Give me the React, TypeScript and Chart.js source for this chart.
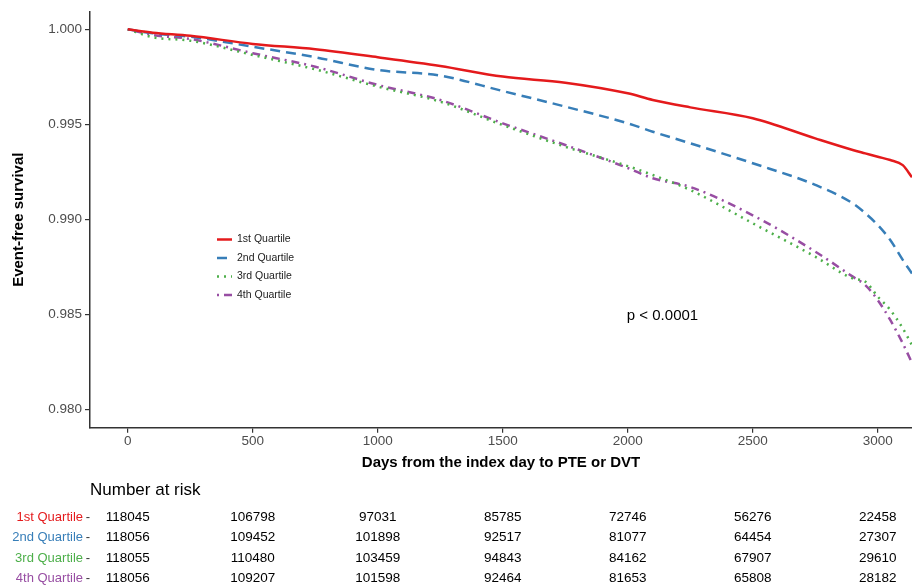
import React, { useEffect, useRef } from "react";
import { Chart, registerables } from "chart.js";

Chart.register(...registerables);

// ---- data ----
const days = [0, 100, 250, 500, 750, 1000, 1250, 1500, 1750, 2000, 2100, 2250, 2500, 2750, 2900, 2950, 3000, 3050, 3100, 3137];
const q1 = [1.0, 0.99982, 0.99966, 0.99923, 0.99895, 0.99853, 0.99807, 0.99751, 0.99719, 0.99663, 0.99628, 0.99589, 0.99532, 0.99426, 0.99365, 0.99347, 0.99329, 0.99312, 0.99285, 0.99221];
const q2 = [1.0, 0.99979, 0.99961, 0.99908, 0.99853, 0.99786, 0.99756, 0.99675, 0.99593, 0.99505, 0.99461, 0.994, 0.99295, 0.99181, 0.99084, 0.99032, 0.9897, 0.98891, 0.98786, 0.98715];
const q3 = [1.0, 0.99958, 0.9994, 0.99865, 0.99789, 0.99698, 0.99619, 0.99496, 0.99382, 0.9928, 0.99233, 0.99154, 0.98979, 0.98803, 0.98689, 0.98672, 0.98593, 0.98523, 0.98426, 0.98337];
const q4 = [1.0, 0.9997, 0.99949, 0.99874, 0.99803, 0.99707, 0.99628, 0.99505, 0.99391, 0.9927, 0.99216, 0.9917, 0.99021, 0.9883, 0.98698, 0.98654, 0.98575, 0.9847, 0.98347, 0.98244];

const seriesNames = ["1st Quartile", "2nd Quartile", "3rd Quartile", "4th Quartile"];
const xTicks = [0, 500, 1000, 1500, 2000, 2500, 3000];
const yTicks = [0.98, 0.985, 0.99, 0.995, 1.0];
const risk1 = [118045, 106798, 97031, 85785, 72746, 56276, 22458];
const risk2 = [118056, 109452, 101898, 92517, 81077, 64454, 27307];
const risk3 = [118055, 110480, 103459, 94843, 84162, 67907, 29610];
const risk4 = [118056, 109207, 101598, 92464, 81653, 65808, 28182];
const pText = "p < 0.0001";

const COLORS = ["#E41A1C", "#377EB8", "#4DAF4A", "#984EA3"];
const DASHES: number[][] = [[], [10, 6], [2, 5], [2, 5, 8, 5]];
const FONT = "'Liberation Sans', Arial, Helvetica, sans-serif";

const overlay = {
  id: "overlay",
  afterDraw(chart: any) {
    const ctx = chart.ctx as CanvasRenderingContext2D;
    const xs = chart.scales.x;
    const area = chart.chartArea;
    ctx.save();
    // y title
    ctx.save();
    ctx.translate(19, (area.top + area.bottom) / 2);
    ctx.rotate(-Math.PI / 2);
    ctx.font = `bold 15px ${FONT}`;
    ctx.fillStyle = "#000";
    ctx.textAlign = "center";
    ctx.textBaseline = "middle";
    ctx.fillText("Event-free survival", 0, 0);
    ctx.restore();
    // x title
    ctx.font = `bold 15px ${FONT}`;
    ctx.fillStyle = "#000";
    ctx.textAlign = "center";
    ctx.textBaseline = "middle";
    ctx.fillText("Days from the index day to PTE or DVT", (area.left + area.right) / 2, 463);
    // p value
    ctx.font = `15px ${FONT}`;
    ctx.fillText(pText, 662.5, 315.5);
    // legend
    const legY = [239.5, 258, 276.5, 295];
    ctx.font = `10.5px ${FONT}`;
    seriesNames.forEach((n, i) => {
      ctx.save();
      ctx.strokeStyle = COLORS[i];
      ctx.lineWidth = 2.5;
      ctx.setLineDash(DASHES[i]);
      ctx.beginPath();
      ctx.moveTo(217, legY[i]);
      ctx.lineTo(232, legY[i]);
      ctx.stroke();
      ctx.restore();
      ctx.fillStyle = "#222";
      ctx.textAlign = "left";
      ctx.textBaseline = "middle";
      ctx.fillText(n, 237, legY[i]);
    });
    // risk table
    ctx.font = `17px ${FONT}`;
    ctx.fillStyle = "#000";
    ctx.textAlign = "left";
    ctx.fillText("Number at risk", 90, 490);
    const rows = [risk1, risk2, risk3, risk4];
    const rowY = [517, 537.5, 558, 578.5];
    rows.forEach((r, i) => {
      ctx.font = `13px ${FONT}`;
      ctx.fillStyle = COLORS[i];
      ctx.textAlign = "right";
      ctx.fillText(seriesNames[i], 83, rowY[i]);
      ctx.fillStyle = "#333";
      ctx.fillText("-", 90, rowY[i]);
      ctx.font = `13.5px ${FONT}`;
      ctx.fillStyle = "#000";
      ctx.textAlign = "center";
      r.forEach((v, j) => {
        ctx.fillText(String(v), xs.getPixelForValue(xTicks[j]), rowY[i]);
      });
    });
    ctx.restore();
  },
};

export default function App() {
  const ref = useRef<HTMLCanvasElement>(null);
  useEffect(() => {
    if (!ref.current) return;
    const series = [q1, q2, q3, q4];
    const chart = new Chart(ref.current, {
      type: "line",
      data: {
        datasets: series.map((s, i) => ({
          label: seriesNames[i],
          data: s.map((v, k) => ({ x: days[k], y: v })),
          borderColor: COLORS[i],
          borderWidth: 2.5,
          borderDash: DASHES[i],
          pointRadius: 0,
          fill: false,
          cubicInterpolationMode: "monotone" as const,
        })),
      },
      options: {
        animation: false,
        responsive: false,
        devicePixelRatio: 1,
        layout: { padding: { top: 11.7, left: 0, right: 0, bottom: 129.3 } },
        plugins: { legend: { display: false }, tooltip: { enabled: false }, title: { display: false } },
        scales: {
          x: {
            type: "linear",
            min: -151,
            max: 3137,
            afterFit: (s: any) => { s.height = 30; },
            afterBuildTicks: (s: any) => { s.ticks = xTicks.map((v) => ({ value: v })); },
            ticks: {
              autoSkip: false,
              maxRotation: 0,
              color: "#4D4D4D",
              font: { size: 13.5, family: FONT },
              padding: 0,
              callback: (v: any) => String(v),
            },
            grid: { drawOnChartArea: false, drawTicks: true, tickLength: 5, color: "#333", lineWidth: 1.2 },
            border: { display: true, color: "#333", width: 1.5 },
          },
          y: {
            type: "linear",
            min: 0.97903,
            max: 1.000926,
            afterFit: (s: any) => { s.width = 90; },
            afterBuildTicks: (s: any) => { s.ticks = yTicks.map((v) => ({ value: v })); },
            ticks: {
              autoSkip: false,
              color: "#4D4D4D",
              font: { size: 13.5, family: FONT },
              padding: 3,
              callback: (v: any) => Number(v).toFixed(3),
            },
            grid: { drawOnChartArea: false, drawTicks: true, tickLength: 5, color: "#333", lineWidth: 1.2 },
            border: { display: true, color: "#333", width: 1.5 },
          },
        },
      },
      plugins: [overlay],
    });
    return () => chart.destroy();
  }, []);
  return (
    <div style={{ position: "fixed", left: 0, top: 0, width: 912, height: 587, background: "#fff" }}>
      <canvas ref={ref} width={912} height={587} style={{ width: 912, height: 587, display: "block" }} />
    </div>
  );
}
